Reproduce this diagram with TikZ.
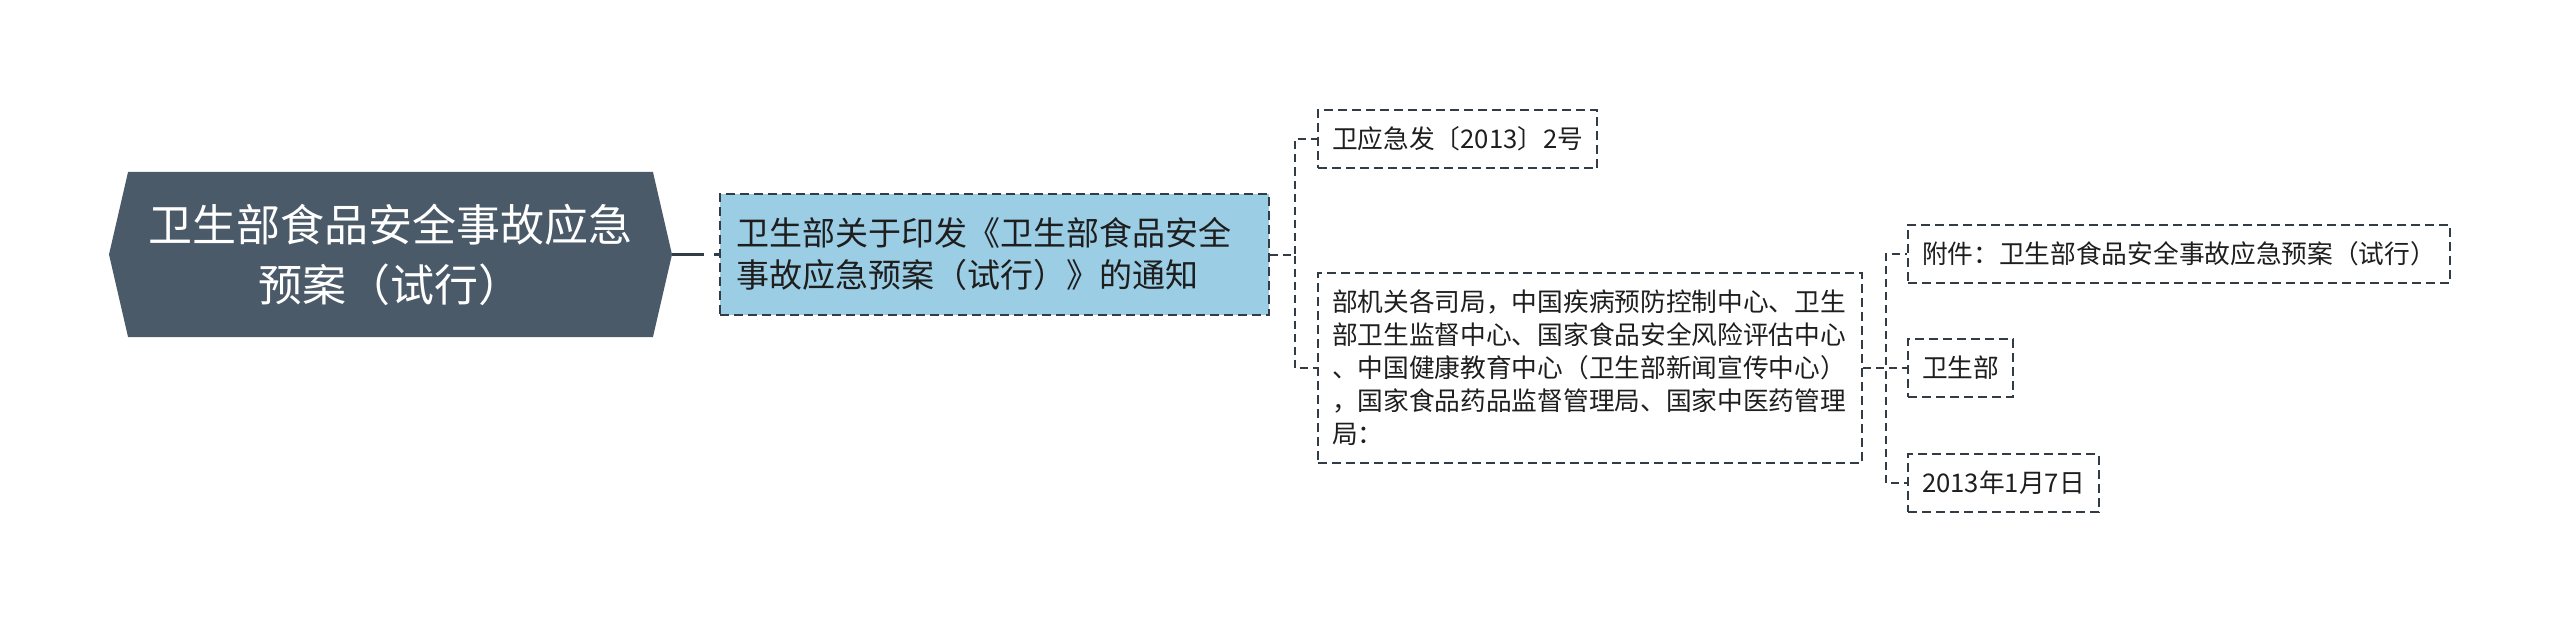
\documentclass[tikz,border=0pt]{standalone}
\usepackage{fontspec}
\usepackage{tikz}
\usetikzlibrary{shapes.symbols}
\newfontfamily\cjk{Noto Sans CJK SC}
\definecolor{topicfill}{HTML}{4A5A69}
\definecolor{mainfill}{HTML}{9BCDE4}
\definecolor{linecol}{HTML}{323C46}
\definecolor{textcol}{HTML}{1E1E1E}

\begin{document}
\begin{tikzpicture}[x=1pt, y=-1pt,
		link/.style={draw=linecol, line width=2pt, dash pattern=on 8pt off 5pt},
		topic/.style={shape=signal, signal to=west and east, signal pointer angle=154, fill=topicfill, text=white, font=\cjk\fontsize{44}{60}\selectfont, align=center, minimum width=563pt, minimum height=165pt, inner sep=0pt},
		main/.style={draw=linecol, line width=2pt, dash pattern=on 9pt off 5pt, fill=mainfill, text=textcol, font=\cjk\fontsize{33}{42}\selectfont, align=left, text width=517pt, inner xsep=16pt, inner ysep=24pt},
		leaf/.style={draw=linecol, line width=2pt, dash pattern=on 9pt off 5pt, text=textcol, font=\cjk\fontsize{25.7}{33}\selectfont, align=left, inner xsep=14pt, inner ysep=17pt}]
		\path[use as bounding box, fill=white] (0,0) rectangle (2560,623);

		\node[topic] (topic) at (390.5,254.5) {卫生部食品安全事故应急\\预案（试行）};
		\node[main, anchor=west] (notice) at (719,254.5) {卫生部关于印发《卫生部食品安全\\事故应急预案（试行）》的通知};
		\node[leaf, anchor=west] (docno) at (1317,139) {卫应急发〔2013〕2号};
		\node[leaf, anchor=west, text width=516pt] (recv) at (1317,368) {部机关各司局，中国疾病预防控制中心、卫生\\部卫生监督中心、国家食品安全风险评估中心\\、中国健康教育中心（卫生部新闻宣传中心）\\，国家食品药品监督管理局、国家中医药管理\\局：};
		\node[leaf, anchor=west] (attach) at (1907,254) {附件：卫生部食品安全事故应急预案（试行）};
		\node[leaf, anchor=west] (issuer) at (1907,368) {卫生部};
		\node[leaf, anchor=west] (date) at (1907,483) {2013年1月7日};

		\draw[draw=linecol, line width=2.5pt, dash pattern=on 32pt off 10pt on 30pt off 10pt] (topic.east) -- (notice.west);
		\draw[link] (notice.east) -- ++(25,0) |- (docno.west);
		\draw[link] (notice.east) -- ++(25,0) |- (recv.west);
		\draw[link] (recv.east) -- ++(23,0) |- (attach.west);
		\draw[link] (recv.east) -- ++(23,0) |- (issuer.west);
		\draw[link] (recv.east) -- ++(23,0) |- (date.west);
	\end{tikzpicture}
\end{document}
